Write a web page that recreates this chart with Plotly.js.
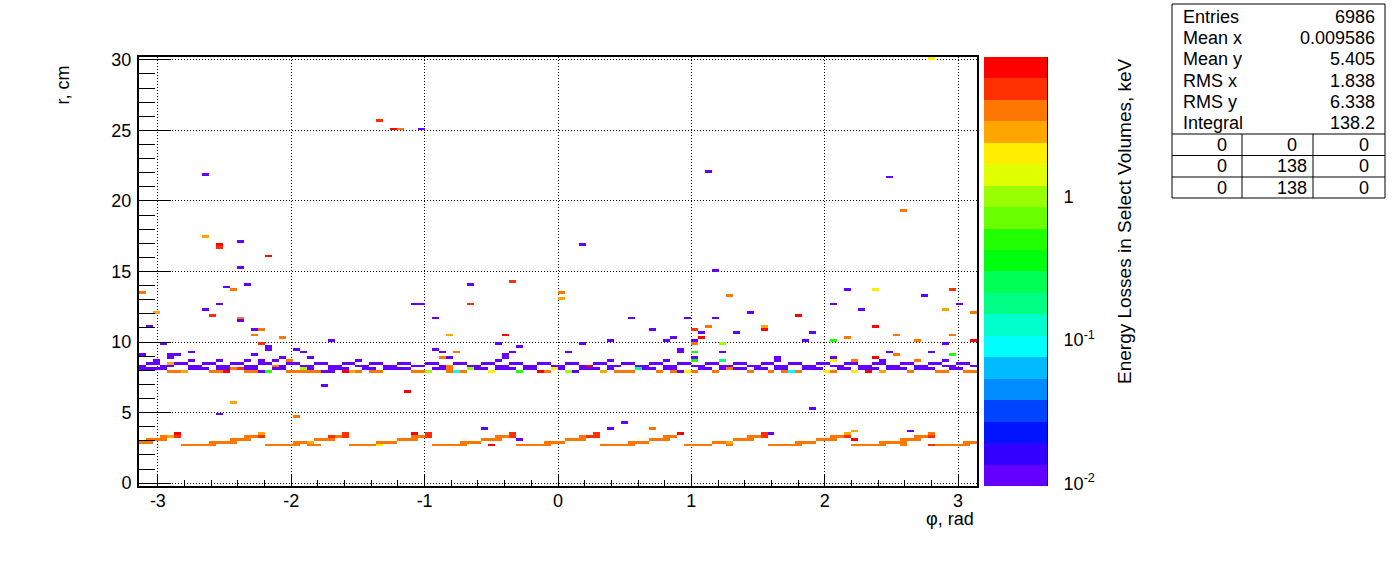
<!DOCTYPE html>
<html><head><meta charset="utf-8">
<script src="https://cdn.plot.ly/plotly-3.0.1.min.js"></script>
<style>html,body{margin:0;padding:0;background:#fff;}#chart{width:1396px;height:572px;}</style>
</head><body><div id="chart"></div>
<script>
// ---------- histogram definition ----------
const nPhiBins = 120;                 // phi from -pi to pi
const rLow = -0.2, rHigh = 30.2, rBinWidth = 0.2;
const zMinKeV = 0.0096, zMaxKeV = 9.38;
// representative energy (keV) of each of the 20 colour levels
const levelKeV = [0.0114,0.0161,0.0227,0.032,0.0452,0.0637,0.0899,0.127,0.179,0.252,0.356,0.502,0.709,1.0,1.41,1.99,2.81,3.96,5.59,7.89];
const levelColors = ['rgb(99,0,255)','rgb(51,0,255)','rgb(0,20,255)','rgb(0,68,255)','rgb(0,139,255)','rgb(0,187,255)','rgb(0,255,252)','rgb(0,255,204)','rgb(0,255,133)','rgb(0,255,85)','rgb(0,255,14)','rgb(34,255,0)','rgb(105,255,0)','rgb(153,255,0)','rgb(224,255,0)','rgb(255,238,0)','rgb(255,167,0)','rgb(255,119,0)','rgb(255,48,0)','rgb(255,0,0)'];

// cells: [r (cm), first phi bin, last phi bin, colour level]
const innerLayer = [
 [2.7,6,10,17],[2.7,18,22,17],[2.7,24,25,17],[2.7,30,33,17],[2.7,34,34,15],[2.7,42,46,17],[2.7,50,50,19],[2.7,54,58,17],[2.7,66,70,17],[2.7,78,81,17],[2.7,84,84,17],[2.7,90,94,17],[2.7,102,106,17],[2.7,109,109,17],[2.7,113,113,18],[2.7,114,118,17],
 [2.9,0,1,17],[2.9,10,13,17],[2.9,22,23,17],[2.9,24,24,16],[2.9,34,36,17],[2.9,46,48,17],[2.9,58,60,17],[2.9,70,72,17],[2.9,82,83,17],[2.9,84,84,16],[2.9,94,96,17],[2.9,106,109,17],[2.9,118,119,17],
 [3.1,1,3,17],[3.1,13,15,17],[3.1,25,27,17],[3.1,37,39,17],[3.1,49,51,17],[3.1,54,54,0],[3.1,61,63,17],[3.1,73,75,17],[3.1,85,87,17],[3.1,97,99,17],[3.1,102,102,19],[3.1,109,111,17],
 [3.3,3,3,17],[3.3,4,4,16],[3.3,5,5,18],[3.3,15,16,17],[3.3,17,17,18],[3.3,27,27,18],[3.3,28,28,17],[3.3,29,29,18],[3.3,39,40,17],[3.3,41,41,18],[3.3,51,52,17],[3.3,53,53,18],[3.3,63,63,17],[3.3,64,65,18],[3.3,75,76,17],[3.3,87,88,17],[3.3,89,89,18],[3.3,99,100,17],[3.3,101,101,18],[3.3,111,112,17],[3.3,113,113,18],
 [3.5,5,5,19],[3.5,17,17,16],[3.5,29,29,18],[3.5,39,39,19],[3.5,41,41,18],[3.5,53,53,18],[3.5,65,65,18],[3.5,77,77,19],[3.5,89,89,18],[3.5,90,90,0],[3.5,101,101,16],[3.5,113,113,17]
];
const outerLayer = [
 [7.9,4,5,17],[7.9,6,6,16],[7.9,10,11,17],[7.9,12,12,19],[7.9,15,16,17],[7.9,17,17,0],[7.9,18,18,11],[7.9,21,25,17],[7.9,26,27,0],[7.9,29,29,19],[7.9,30,30,16],[7.9,31,31,17],[7.9,33,34,17],[7.9,39,40,17],[7.9,41,41,13],[7.9,44,44,17],[7.9,45,45,6],[7.9,46,46,17],[7.9,50,50,15],[7.9,54,54,11],[7.9,57,57,19],[7.9,58,58,17],[7.9,61,61,13],[7.9,62,62,0],[7.9,66,66,16],[7.9,68,70,17],[7.9,74,74,17],[7.9,76,76,17],[7.9,77,77,0],[7.9,78,78,15],[7.9,79,79,17],[7.9,82,82,17],[7.9,87,87,17],[7.9,90,90,17],[7.9,92,92,17],[7.9,93,93,6],[7.9,94,94,17],[7.9,98,98,15],[7.9,99,99,17],[7.9,102,102,15],[7.9,104,104,19],[7.9,106,106,16],[7.9,110,110,17],[7.9,114,115,17],[7.9,118,119,17],
 [8.1,0,3,0],[8.1,7,9,0],[8.1,11,12,0],[8.1,13,13,17],[8.1,14,14,18],[8.1,15,16,0],[8.1,19,20,0],[8.1,23,23,13],[8.1,24,24,0],[8.1,27,29,0],[8.1,32,33,0],[8.1,35,38,0],[8.1,42,43,0],[8.1,44,44,17],[8.1,47,47,13],[8.1,48,49,0],[8.1,51,53,0],[8.1,55,56,0],[8.1,59,59,15],[8.1,60,60,0],[8.1,63,65,0],[8.1,67,67,0],[8.1,71,71,8],[8.1,72,73,0],[8.1,75,76,0],[8.1,80,81,0],[8.1,83,83,0],[8.1,84,84,17],[8.1,85,86,0],[8.1,88,89,0],[8.1,91,92,0],[8.1,95,97,0],[8.1,100,101,0],[8.1,103,105,0],[8.1,107,109,0],[8.1,111,113,0],[8.1,116,117,0],
 [8.3,0,0,0],[8.3,3,4,0],[8.3,7,8,0],[8.3,11,12,0],[8.3,15,16,0],[8.3,19,19,17],[8.3,20,20,0],[8.3,23,24,0],[8.3,27,28,0],[8.3,31,32,0],[8.3,35,36,0],[8.3,39,40,0],[8.3,43,43,0],[8.3,44,44,17],[8.3,47,48,0],[8.3,51,52,0],[8.3,55,56,0],[8.3,59,60,0],[8.3,63,63,0],[8.3,64,64,19],[8.3,67,68,0],[8.3,71,72,0],[8.3,75,76,0],[8.3,79,80,0],[8.3,83,84,0],[8.3,87,88,0],[8.3,91,92,0],[8.3,95,96,0],[8.3,99,100,0],[8.3,103,104,0],[8.3,107,108,0],[8.3,111,112,0],[8.3,115,116,0],[8.3,119,119,0],
 [8.5,1,2,0],[8.5,4,4,16],[8.5,5,6,0],[8.5,9,10,0],[8.5,13,14,0],[8.5,17,18,0],[8.5,21,22,0],[8.5,25,26,0],[8.5,29,30,0],[8.5,33,34,0],[8.5,37,38,0],[8.5,41,42,0],[8.5,45,46,0],[8.5,49,50,0],[8.5,53,54,0],[8.5,57,58,0],[8.5,61,62,0],[8.5,65,66,0],[8.5,69,70,0],[8.5,73,74,0],[8.5,77,78,0],[8.5,81,82,0],[8.5,85,86,0],[8.5,89,90,0],[8.5,93,94,0],[8.5,97,98,0],[8.5,101,102,0],[8.5,105,106,0],[8.5,109,110,0],[8.5,113,114,0],[8.5,117,118,0]
];
const scatteredCells = [
 [8.7,2,2,0],[8.7,7,7,0],[8.7,11,11,0],[8.7,15,15,0],[8.7,17,17,0],[8.7,19,19,0],[8.7,21,21,17],[8.7,31,31,0],[8.7,51,51,0],[8.7,67,67,0],[8.7,75,75,0],[8.7,79,79,11],[8.7,83,83,8],[8.7,91,91,0],[8.7,99,99,15],[8.7,102,102,17],[8.7,106,106,0],[8.7,111,111,17],[8.7,115,115,0],
 [8.9,4,4,0],[8.9,20,20,0],[8.9,24,24,0],[8.9,43,43,17],[8.9,44,44,0],[8.9,52,52,0],[8.9,79,79,0],[8.9,91,91,0],[8.9,99,99,0],[8.9,105,105,19],
 [9.1,0,0,0],[9.1,4,5,0],[9.1,16,16,0],[9.1,52,52,0],[9.1,108,108,17],[9.1,116,116,11],
 [9.3,7,7,0],[9.3,23,23,0],[9.3,43,43,0],[9.3,45,45,17],[9.3,53,53,0],[9.3,61,61,0],[9.3,77,77,0],[9.3,79,79,11],[9.3,83,83,0],[9.3,107,107,0],[9.3,113,113,0],
 [9.5,18,18,0],[9.5,22,22,0],[9.5,42,42,0],[9.5,77,77,0],
 [9.7,18,18,0],[9.7,54,54,0],
 [9.9,3,3,0],[9.9,17,17,18],[9.9,51,51,0],[9.9,63,63,0],[9.9,79,79,17],[9.9,83,83,13],[9.9,115,115,0],
 [10.1,27,27,0],[10.1,67,67,0],[10.1,75,75,0],[10.1,79,79,0],[10.1,95,95,0],[10.1,99,99,11],[10.1,111,111,17],[10.1,119,119,19],
 [10.3,20,20,17],[10.3,76,76,0],[10.3,80,80,19],[10.3,101,101,17],
 [10.5,16,16,17],[10.5,44,44,16],[10.5,52,52,19],[10.5,108,108,17],[10.5,116,116,17],
 [10.7,80,80,0],[10.7,85,85,0],[10.7,96,96,0],
 [10.9,16,16,0],[10.9,17,17,17],[10.9,73,73,0],[10.9,79,79,18],[10.9,89,89,19],
 [11.1,1,1,0],[11.1,81,81,17],[11.1,89,89,16],[11.1,105,105,19],
 [11.5,14,14,0],
 [11.7,14,14,17],[11.7,42,42,0],[11.7,70,70,0],[11.7,78,78,0],[11.7,82,82,0],
 [11.9,10,10,18],[11.9,94,94,19],
 [12.1,2,2,16],[12.1,87,87,0],[12.1,119,119,17],
 [12.3,9,9,0],[12.3,103,103,0],[12.3,115,115,16],
 [12.7,11,11,0],[12.7,39,40,0],[12.7,47,47,18],[12.7,99,99,0],[12.7,117,117,0],
 [13.1,60,60,16],[13.3,84,84,17],[13.3,112,112,0],
 [13.5,0,0,17],[13.5,60,60,17],
 [13.7,13,13,17],[13.7,101,101,0],[13.7,105,105,15],[13.7,116,116,18],
 [13.9,12,12,0],[14.1,15,15,0],[14.1,47,47,0],[14.3,53,53,18],
 [15.1,82,82,0],[15.3,14,14,0],[16.1,18,18,19],[16.7,11,11,18],[16.9,11,11,19],[16.9,63,63,0],
 [17.1,14,14,0],[17.5,9,9,16],[19.3,109,109,17],[21.7,107,107,0],[21.9,9,9,0],[22.1,81,81,0],
 [25.1,36,36,19],[25.1,37,37,17],[25.1,40,40,0],[25.7,34,34,18],[30.1,113,113,15],
 [6.9,26,26,0],[6.5,38,38,19],[5.7,13,13,16],[4.9,11,11,0],[4.7,22,22,17],[5.3,96,96,0],[4.3,69,69,0],
 [3.9,49,49,0],[3.9,67,67,0],[3.9,73,73,17],[3.7,102,102,16],[3.7,110,110,0]
];

// statistics box
const statNames = ['Entries','Mean x','Mean y','RMS x','RMS y','Integral'];
const statValues = ['6986','0.009586','5.405','1.838','6.338','138.2'];
const overflowTable = [['0','0','0'],['0','138','0'],['0','138','0']];

// ---------- build histogram grid ----------
const nRBins = Math.round((rHigh - rLow) / rBinWidth);
const dPhi = 2 * Math.PI / nPhiBins;
const z = [];
for (let j = 0; j < nRBins; j++) z.push(new Array(nPhiBins).fill(null));
[innerLayer, outerLayer, scatteredCells].forEach(list => list.forEach(([r, a, b, lev]) => {
  const j = Math.floor((r - rLow) / rBinWidth + 1e-6);
  for (let i = a; i <= b; i++) z[j][i] = Math.log10(levelKeV[lev]);
}));
const zLo = Math.log10(zMinKeV), zHi = Math.log10(zMaxKeV);
const colorscale = [];
levelColors.forEach((c, k) => { colorscale.push([k / 20, c]); colorscale.push([(k + 1) / 20, c]); });

// ---------- geometry (pixels) ----------
const W = 1396, H = 572, L = 139, R = 349, T = 57, B = 86;
const plotW = W - L - R, plotH = H - T - B;
const frameRight = 838 / plotW;
const px = x => (x - L) / plotW;
const py = y => (H - B - y) / plotH;
const FONT = 'Liberation Sans, Arial, Helvetica, sans-serif';
const DOTS = '1px,2px';

const heat = {
  type: 'heatmap', z: z,
  x0: -Math.PI + dPhi / 2, dx: dPhi, y0: rLow + rBinWidth / 2, dy: rBinWidth,
  zmin: zLo, zmax: zHi, colorscale: colorscale, hoverinfo: 'skip',
  colorbar: { thickness: 63, thicknessmode: 'pixels', len: 1, lenmode: 'fraction',
    x: px(984), xanchor: 'left', y: 0, yanchor: 'bottom', xpad: 0, ypad: 0,
    outlinewidth: 0, showticklabels: false, ticks: '' }
};
const dummy = { type: 'scatter', x: [null], y: [null], xaxis: 'x', yaxis: 'y2', showlegend: false, hoverinfo: 'skip', mode: 'markers' };

const minorLog = [0.02,0.03,0.04,0.05,0.06,0.07,0.08,0.09,0.2,0.3,0.4,0.5,0.6,0.7,0.8,0.9,2,3,4,5,6,7,8,9];

const shapes = [];
const annotations = [];
// stats box
const bx0 = 1172, bx1 = 1385, by0 = 4, by1 = 198;
shapes.push({type:'rect', xref:'paper', yref:'paper', x0:px(bx0), x1:px(bx1), y0:py(by1), y1:py(by0), line:{color:'#000', width:1}, fillcolor:'#fff', layer:'above'});
[134, 155.5, 177].forEach(yy => shapes.push({type:'line', xref:'paper', yref:'paper', x0:px(bx0), x1:px(bx1), y0:py(yy), y1:py(yy), line:{color:'#000', width:1}}));
[1242, 1313].forEach(xx => shapes.push({type:'line', xref:'paper', yref:'paper', x0:px(xx), x1:px(xx), y0:py(134), y1:py(by1), line:{color:'#000', width:1}}));
const statRowY = [17, 38, 59, 81, 102, 123];
statNames.forEach((n, i) => {
  annotations.push({xref:'paper', yref:'paper', x:px(1181), y:py(statRowY[i]), text:n, showarrow:false, xanchor:'left', yanchor:'middle', font:{family:FONT, size:18, color:'#000'}});
  annotations.push({xref:'paper', yref:'paper', x:px(1377), y:py(statRowY[i]), text:statValues[i], showarrow:false, xanchor:'right', yanchor:'middle', font:{family:FONT, size:18, color:'#000'}});
});
const tableRowY = [145, 166, 188], tableColX = [1222, 1292, 1364];
overflowTable.forEach((row, i) => row.forEach((v, k) => {
  annotations.push({xref:'paper', yref:'paper', x:px(tableColX[k]), y:py(tableRowY[i]), text:v, showarrow:false, xanchor:'center', yanchor:'middle', font:{family:FONT, size:18, color:'#000'}});
}));
// axis titles
annotations.push({xref:'paper', yref:'paper', x:px(976), y:py(519), text:'φ, rad', showarrow:false, xanchor:'right', yanchor:'middle', font:{family:FONT, size:18, color:'#000'}});
annotations.push({xref:'paper', yref:'paper', x:px(62), y:py(64), text:'r, cm', showarrow:false, textangle:-90, xanchor:'center', yanchor:'top', font:{family:FONT, size:18, color:'#000'}});
annotations.push({xref:'paper', yref:'paper', x:px(1124), y:py(56), text:'Energy Losses in Select Volumes, keV', showarrow:false, textangle:-90, xanchor:'center', yanchor:'top', font:{family:FONT, size:19, color:'#000'}});

const layout = {
  width: W, height: H, margin: {l: L, r: R, t: T, b: B, pad: 0},
  paper_bgcolor: '#fff', plot_bgcolor: '#fff', showlegend: false,
  font: {family: FONT, size: 18, color: '#000'},
  xaxis: { domain: [0, frameRight], range: [-Math.PI, Math.PI], tickmode: 'array',
    tickvals: [-3,-2,-1,0,1,2,3], ticktext: ['-3','-2','-1','0','1','2','3'],
    ticks: 'inside', ticklen: 12, tickwidth: 1, tickcolor: '#000', ticklabelstandoff: -3,
    minor: { tickmode: 'linear', tick0: 0, dtick: 0.2, ticklen: 6, ticks: 'inside', tickcolor: '#000', showgrid: false },
    showgrid: true, gridcolor: '#000', griddash: DOTS, gridwidth: 1,
    showline: true, linecolor: '#000', linewidth: 2, mirror: true, zeroline: false,
    tickfont: {family: FONT, size: 18, color: '#000'}, fixedrange: true },
  yaxis: { range: [rLow, rHigh], tickmode: 'array', tickvals: [0,5,10,15,20,25,30],
    ticks: 'inside', ticklen: 32, tickwidth: 1, tickcolor: '#000', ticklabelstandoff: 2,
    minor: { tickmode: 'linear', tick0: 0, dtick: 1, ticklen: 16, ticks: 'inside', tickcolor: '#000', showgrid: false },
    showgrid: true, gridcolor: '#000', griddash: DOTS, gridwidth: 1,
    showline: true, linecolor: '#000', linewidth: 2, mirror: true, zeroline: false,
    tickfont: {family: FONT, size: 18, color: '#000'}, fixedrange: true },
  yaxis2: { type: 'log', range: [zLo, zHi], overlaying: 'y', anchor: 'free', position: 1, side: 'right',
    tickmode: 'array', tickvals: [0.01, 0.1, 1], ticktext: ['10<sup>-2</sup>', '10<sup>-1</sup>', '1'],
    ticks: 'inside', ticklen: 32, tickwidth: 1, tickcolor: '#000', ticklabelstandoff: 12,
    minor: { tickmode: 'array', tickvals: minorLog, ticklen: 15, ticks: 'inside', tickcolor: '#000', showgrid: false },
    showgrid: false, zeroline: false, showline: true, linecolor: '#000', linewidth: 1,
    tickfont: {family: FONT, size: 18, color: '#000'}, fixedrange: true },
  shapes: shapes, annotations: annotations
};
Plotly.newPlot('chart', [heat, dummy], layout, {staticPlot: true, displayModeBar: false});
</script></body></html>
